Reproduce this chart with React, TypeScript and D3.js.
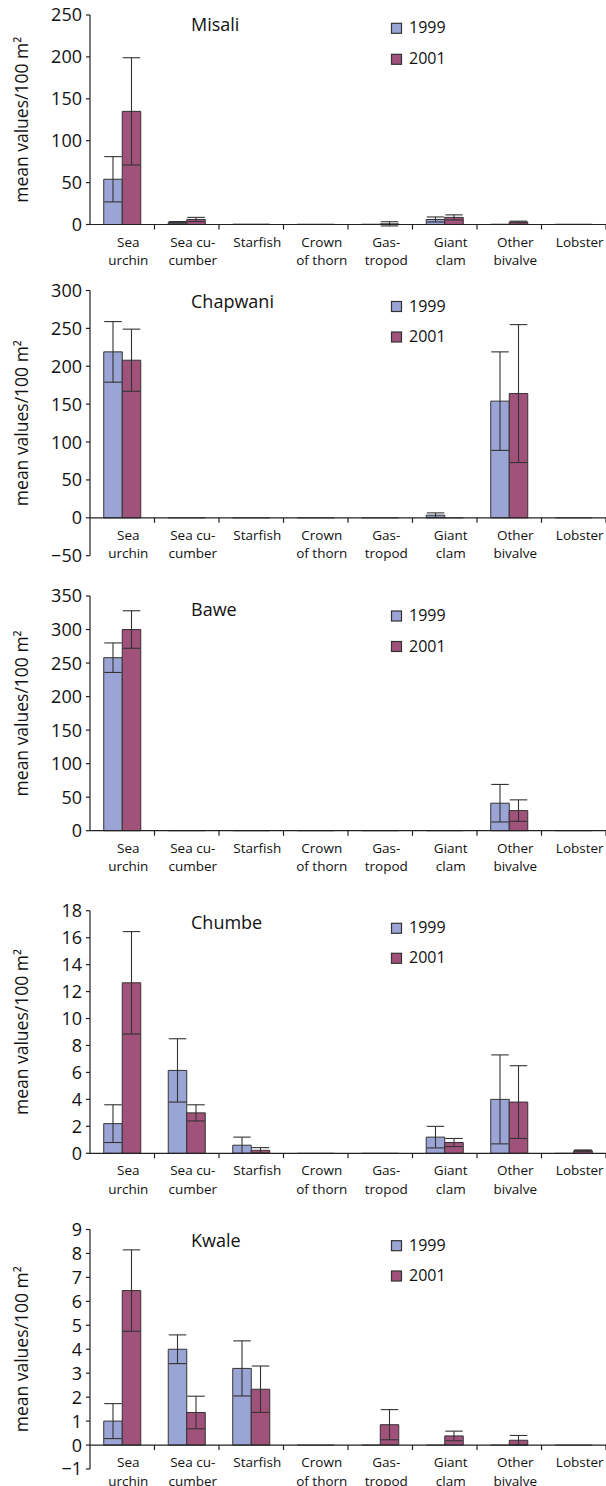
import React from "react";
import * as d3 from "d3";

// Survey categories (two-line labels as printed under each axis)
const categories: string[][] = [
  ["Sea", "urchin"],
  ["Sea cu-", "cumber"],
  ["Starfish"],
  ["Crown", "of thorn"],
  ["Gas-", "tropod"],
  ["Giant", "clam"],
  ["Other", "bivalve"],
  ["Lobster"],
];
const years = ["1999", "2001"];
const sites = ["Misali", "Chapwani", "Bawe", "Chumbe", "Kwale"];

// Mean values per 100 m² and their error (± SE)
const misali1999 = [54, 2.5, 0.4, 0.3, 0.3, 6, 0.3, 0.3];
const misali1999Err = [27, 1, 0, 0, 0, 3, 0, 0];
const misali2001 = [135, 6, 0.4, 0.3, 0.8, 8.5, 3, 0.3];
const misali2001Err = [64, 2.5, 0, 0, 2.5, 3, 1, 0];

const chapwani1999 = [219, 0, 0, 0, 0, 3.5, 154, 0];
const chapwani1999Err = [40, 0, 0, 0, 0, 3, 65, 0];
const chapwani2001 = [208, 0, 0, 0, 0, 0, 164, 0];
const chapwani2001Err = [41, 0, 0, 0, 0, 0, 91, 0];

const bawe1999 = [258, 0, 0, 0, 0, 0, 41, 0];
const bawe1999Err = [22, 0, 0, 0, 0, 0, 28, 0];
const bawe2001 = [300, 0, 0, 0, 0, 0, 30, 0];
const bawe2001Err = [28, 0, 0, 0, 0, 0, 16, 0];

const chumbe1999 = [2.2, 6.15, 0.6, 0, 0, 1.2, 4.0, 0];
const chumbe1999Err = [1.4, 2.35, 0.6, 0, 0, 0.8, 3.3, 0];
const chumbe2001 = [12.65, 3.0, 0.22, 0, 0, 0.8, 3.8, 0.2];
const chumbe2001Err = [3.8, 0.6, 0.2, 0, 0, 0.3, 2.7, 0.05];

const kwale1999 = [1.0, 4.0, 3.2, 0, 0, 0, 0, 0];
const kwale1999Err = [0.73, 0.6, 1.15, 0, 0, 0, 0, 0];
const kwale2001 = [6.45, 1.36, 2.33, 0, 0.85, 0.38, 0.2, 0];
const kwale2001Err = [1.7, 0.68, 0.97, 0, 0.63, 0.2, 0.2, 0];

// Y-axis tick values for each site
const misaliTicks = [0, 50, 100, 150, 200, 250];
const chapwaniTicks = [-50, 0, 50, 100, 150, 200, 250, 300];
const baweTicks = [0, 50, 100, 150, 200, 250, 300, 350];
const chumbeTicks = [0, 2, 4, 6, 8, 10, 12, 14, 16, 18];
const kwaleTicks = [-1, 0, 1, 2, 3, 4, 5, 6, 7, 8, 9];

const seriesBySite = [
  { values: [misali1999, misali2001], errors: [misali1999Err, misali2001Err], ticks: misaliTicks },
  { values: [chapwani1999, chapwani2001], errors: [chapwani1999Err, chapwani2001Err], ticks: chapwaniTicks },
  { values: [bawe1999, bawe2001], errors: [bawe1999Err, bawe2001Err], ticks: baweTicks },
  { values: [chumbe1999, chumbe2001], errors: [chumbe1999Err, chumbe2001Err], ticks: chumbeTicks },
  { values: [kwale1999, kwale2001], errors: [kwale1999Err, kwale2001Err], ticks: kwaleTicks },
];

// Vertical frame of each panel: pixel of the top tick, pixel of the bottom tick,
// title baseline and the two legend row baselines
const frames = [
  { top: 15, bottom: 224.5, title: 30.5, legend: [33.3, 64.3] },
  { top: 290.5, bottom: 555.7, title: 308, legend: [311.5, 342] },
  { top: 596, bottom: 830.7, title: 615.5, legend: [621, 651.5] },
  { top: 910.7, bottom: 1153.3, title: 929.3, legend: [933.3, 963.3] },
  { top: 1229.5, bottom: 1469, title: 1247.3, legend: [1250.7, 1281] },
];

const FILL: Record<string, string> = { "1999": "#9aa5d5", "2001": "#a0527b" };
const EDGE = "#333333";
const FONT = "'Open Sans', 'Noto Sans', sans-serif";

const AXIS_X = 90;
const AXIS_END = 606;

const fmt = (v: number) => (v < 0 ? "\u2212" + Math.abs(v) : String(v));

function Panel({ index }: { index: number }) {
  const { values, errors, ticks } = seriesBySite[index];
  const frame = frames[index];
  const y = d3
    .scaleLinear()
    .domain([ticks[0], ticks[ticks.length - 1]])
    .range([frame.bottom, frame.top]);
  const x = d3
    .scaleBand<number>()
    .domain(categories.map((_, i) => i))
    .range([AXIS_X, AXIS_END])
    .paddingInner(0)
    .paddingOuter(0);
  const xs = d3
    .scaleBand<string>()
    .domain(years)
    .range([0, x.bandwidth()])
    .paddingInner(0)
    .paddingOuter(0.743);
  const y0 = y(0);
  const bw = xs.bandwidth();
  const mid = (frame.top + frame.bottom) / 2;

  return (
    <g>
      {/* bars */}
      {years.map((yr, s) =>
        values[s].map((v, i) => {
          const x0 = (x(i) as number) + (xs(yr) as number);
          const yv = y(v);
          return (
            <path
              key={`b-${yr}-${i}`}
              d={`M${x0},${y0}V${yv}H${x0 + bw}V${y0}Z`}
              fill={FILL[yr]}
              stroke={v === 0 ? "#777" : EDGE}
              strokeWidth={1}
            />
          );
        })
      )}
      {/* error bars */}
      {years.map((yr, s) =>
        values[s].map((v, i) => {
          const e = errors[s][i];
          if (!e) return null;
          const cx = (x(i) as number) + (xs(yr) as number) + bw / 2;
          const hi = y(v + e);
          const lo = y(v - e);
          const hw = bw / 2 - 0.5;
          return (
            <g key={`e-${yr}-${i}`} stroke={EDGE} strokeWidth={1.1}>
              <line x1={cx} x2={cx} y1={hi} y2={lo} />
              <line x1={cx - hw} x2={cx + hw} y1={hi} y2={hi} />
              <line x1={cx - hw} x2={cx + hw} y1={lo} y2={lo} />
            </g>
          );
        })
      )}
      {/* y axis */}
      <line x1={AXIS_X} x2={AXIS_X} y1={frame.top} y2={frame.bottom} stroke="#222" strokeWidth={1.2} />
      {ticks.map((t) => (
        <g key={`t-${t}`}>
          <line x1={AXIS_X - 4} x2={AXIS_X} y1={y(t)} y2={y(t)} stroke="#222" strokeWidth={1.2} />
          <text
            x={AXIS_X - 8}
            y={y(t)}
            dy="0.36em"
            textAnchor="end"
            fontSize={18}
            fontFamily={FONT}
            fill="#111"
          >
            {fmt(t)}
          </text>
        </g>
      ))}
      {/* x axis at zero */}
      <line x1={AXIS_X} x2={AXIS_END} y1={y0} y2={y0} stroke="#222" strokeWidth={1.2} />
      {categories.map((_, i) => (
        <line
          key={`xt-${i}`}
          x1={(x(i) as number) + x.bandwidth()}
          x2={(x(i) as number) + x.bandwidth()}
          y1={y0}
          y2={y0 + 5}
          stroke="#222"
          strokeWidth={1.2}
        />
      ))}
      {categories.map((lines, i) => (
        <text
          key={`xl-${i}`}
          x={(x(i) as number) + x.bandwidth() / 2 + 6}
          y={y0 + 22}
          textAnchor="middle"
          fontSize={13.5}
          fontFamily={FONT}
          fill="#111"
        >
          {lines.map((ln, k) => (
            <tspan key={k} x={(x(i) as number) + x.bandwidth() / 2 + 6} dy={k === 0 ? 0 : 18.5}>
              {ln}
            </tspan>
          ))}
        </text>
      ))}
      {/* y axis title */}
      <text
        transform={`translate(28,${mid}) rotate(-90)`}
        textAnchor="middle"
        fontSize={17.5}
        fontFamily={FONT}
        fill="#111"
      >
        mean values/100 m²
      </text>
      {/* site name */}
      <text x={191} y={frame.title} fontSize={18} fontFamily={FONT} fill="#111">
        {sites[index]}
      </text>
      {/* legend */}
      {years.map((yr, s) => (
        <g key={`lg-${yr}`}>
          <rect
            x={391.5}
            y={frame.legend[s] - 10}
            width={10}
            height={10}
            fill={FILL[yr]}
            stroke={EDGE}
            strokeWidth={1.2}
          />
          <text x={409} y={frame.legend[s]} fontSize={16} fontFamily={FONT} fill="#111">
            {yr}
          </text>
        </g>
      ))}
    </g>
  );
}

export default function App() {
  return (
    <div style={{ position: "absolute", left: 0, top: 0 }}>
      <svg width={606} height={1486} style={{ display: "block", background: "#fff" }}>
        {sites.map((_, i) => (
          <Panel key={i} index={i} />
        ))}
      </svg>
    </div>
  );
}
